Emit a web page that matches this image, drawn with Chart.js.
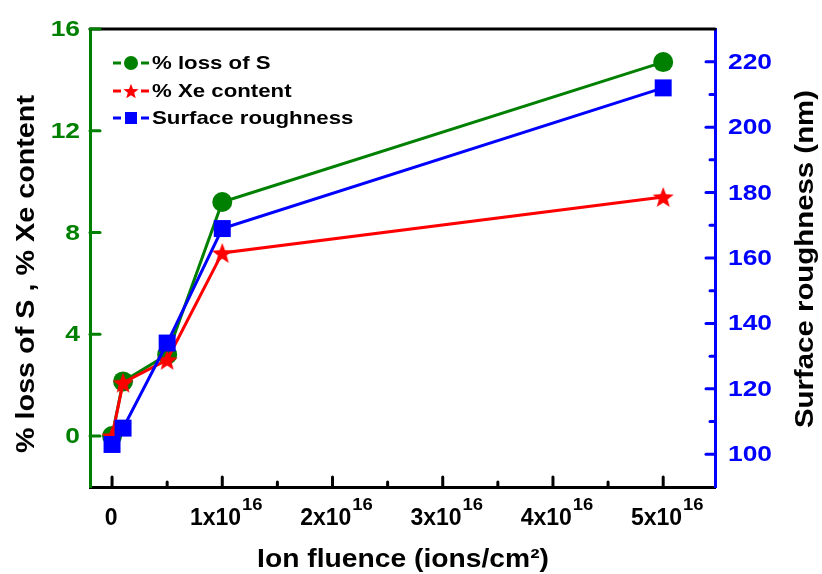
<!DOCTYPE html>
<html>
<head>
<meta charset="utf-8">
<script src="https://cdn.jsdelivr.net/npm/chart.js@4.4.1/dist/chart.umd.min.js"></script>
<style>
html,body{margin:0;padding:0;background:#fff}
</style>
</head>
<body>
<canvas id="myChart" width="822" height="574"></canvas>
<script>
// data
const fluence=[0,0.1e16,0.5e16,1e16,5e16];
const lossOfS=[0,2.15,3.2,9.2,14.7];
const xeContent=[0,2.1,3.0,7.2,9.4];
const roughness=[103,108,134,169,212];
const seriesNames=['% loss of S','% Xe content','Surface roughness'];
const xTicks=[0,1e16,2e16,3e16,4e16,5e16];
const xMinor=[0.5e16,1.5e16,2.5e16,3.5e16,4.5e16];
const leftTicks=[0,4,8,12,16];
const rightTicks=[100,120,140,160,180,200,220];
const rightMinor=[110,130,150,170,190,210];
const xTitle='Ion fluence (ions/cm²)';
const leftTitle='% loss of S , % Xe content';
const rightTitle='Surface roughness (nm)';

const GREEN='#008000', RED='#ff0000', BLUE='#0000ff';
const FONT='"Liberation Sans", Arial, sans-serif';

// filled 5 point star, chart.js "star" is only an asterisk
function makeStar(r,color){
    const c=document.createElement('canvas');
    c.width=c.height=Math.ceil(r*2+2);
    const g=c.getContext('2d');
    const cx=c.width/2, cy=c.height/2+r*0.1;
    g.beginPath();
    for(let i=0;i<10;i++){
        const rad=i%2==0?r:r*0.42;
        const a=-Math.PI/2+i*Math.PI/5;
        g.lineTo(cx+rad*Math.cos(a),cy+rad*Math.sin(a));
    }
    g.closePath();
    g.fillStyle=color;
    g.fill();
    return c;
}
const bigStar=makeStar(11,RED);
const smallStar=makeStar(8,RED);

const toPoints=(xs,ys)=>xs.map((x,i)=>({x:x,y:ys[i]}));

// the figure's lettering is wider than arial, so stretch it a bit
function drawText(ctx,txt,x,y,size,stretch,align,base,angle,color){
    ctx.save();
    ctx.font='bold '+size+'px '+FONT;
    ctx.fillStyle=color||'#000';
    ctx.textAlign=align;
    ctx.textBaseline=base;
    ctx.translate(x,y);
    if(angle) ctx.rotate(angle);
    ctx.scale(stretch,1);
    ctx.fillText(txt,0,0);
    ctx.restore();
}
function textWidth(ctx,txt,size){
    ctx.save();
    ctx.font='bold '+size+'px '+FONT;
    const w=ctx.measureText(txt).width;
    ctx.restore();
    return w;
}

const decorPlugin={
    id:'decor',
    afterDraw(chart){
        const ctx=chart.ctx;
        const a=chart.chartArea;
        const sx=chart.scales.x, sy=chart.scales.y, sy1=chart.scales.y1;
        ctx.save();
        ctx.lineCap='round';
        // top frame
        ctx.strokeStyle='#000';
        ctx.lineWidth=3;
        ctx.beginPath();
        ctx.moveTo(a.left,a.top);
        ctx.lineTo(a.right,a.top);
        ctx.stroke();
        // x ticks (inward)
        xTicks.forEach(v=>{
            const p=sx.getPixelForValue(v);
            ctx.beginPath();ctx.moveTo(p,a.bottom);ctx.lineTo(p,a.bottom-10);ctx.stroke();
        });
        xMinor.forEach(v=>{
            const p=sx.getPixelForValue(v);
            ctx.beginPath();ctx.moveTo(p,a.bottom);ctx.lineTo(p,a.bottom-5);ctx.stroke();
        });
        // left ticks + labels
        ctx.strokeStyle=GREEN;
        leftTicks.forEach(v=>{
            const p=sy.getPixelForValue(v);
            ctx.beginPath();ctx.moveTo(a.left,p);ctx.lineTo(a.left+10,p);ctx.stroke();
            drawText(ctx,String(v),80,p+1,22,1.2,'right','middle',0,GREEN);
        });
        // right ticks + labels
        ctx.strokeStyle=BLUE;
        rightTicks.forEach(v=>{
            const p=sy1.getPixelForValue(v);
            ctx.beginPath();ctx.moveTo(a.right,p);ctx.lineTo(a.right-9,p);ctx.stroke();
            drawText(ctx,String(v),728,p+1,22,1.2,'left','middle',0,BLUE);
        });
        rightMinor.forEach(v=>{
            const p=sy1.getPixelForValue(v);
            ctx.beginPath();ctx.moveTo(a.right,p);ctx.lineTo(a.right-5,p);ctx.stroke();
        });
        // x tick labels, 1x10 with a raised 16
        xTicks.forEach(v=>{
            const p=sx.getPixelForValue(v);
            const main=v==0?'0':Math.round(v/1e16)+'x10';
            const sup=v==0?'':'16';
            const w1=textWidth(ctx,main,23);
            const w2=sup?textWidth(ctx,sup,16)*1.15+1:0;
            const x0=p-(w1+w2)/2+(v==0?-1:4);
            drawText(ctx,main,x0,525,23,1,'left','alphabetic',0,'#000');
            if(sup) drawText(ctx,sup,x0+w1+1,510,16,1.15,'left','alphabetic',0,'#000');
        });
        // axis titles
        drawText(ctx,xTitle,403,567,25,1.13,'center','alphabetic',0,'#000');
        drawText(ctx,leftTitle,34,274,25,358/textWidth(ctx,leftTitle,25),'center','alphabetic',-Math.PI/2,'#000');
        drawText(ctx,rightTitle,813,259,25,338/textWidth(ctx,rightTitle,25),'center','alphabetic',-Math.PI/2,'#000');
        // legend
        const colors=[GREEN,RED,BLUE];
        const rows=[63,91,118];
        ctx.lineCap='butt';
        rows.forEach((y,i)=>{
            ctx.strokeStyle=colors[i];
            ctx.fillStyle=colors[i];
            ctx.lineWidth=3;
            ctx.beginPath();ctx.moveTo(113,y);ctx.lineTo(121,y);ctx.stroke();
            ctx.beginPath();ctx.moveTo(141,y);ctx.lineTo(149,y);ctx.stroke();
            if(i==0){ctx.beginPath();ctx.arc(131,y,7,0,Math.PI*2);ctx.fill();}
            if(i==1){ctx.drawImage(smallStar,131-smallStar.width/2,y-smallStar.height/2);}
            if(i==2){ctx.fillRect(125,y-6,12,12);}
            drawText(ctx,seriesNames[i],152,y+1,19,1.17,'left','middle',0,'#000');
        });
        ctx.restore();
    }
};

const ctx=document.getElementById('myChart');
const myChart=new Chart(ctx,{
    type:'line',
    data:{
        datasets:[{
            label:seriesNames[0],
            data:toPoints(fluence,lossOfS),
            borderColor:GREEN,
            backgroundColor:GREEN,
            pointStyle:'circle',
            pointRadius:10,
            pointBorderWidth:0,
            borderWidth:3,
            yAxisID:'y',
            order:2
        },{
            label:seriesNames[1],
            data:toPoints(fluence,xeContent),
            borderColor:RED,
            backgroundColor:RED,
            pointStyle:bigStar,
            borderWidth:3,
            yAxisID:'y',
            order:1
        },{
            label:seriesNames[2],
            data:toPoints(fluence,roughness),
            borderColor:BLUE,
            backgroundColor:BLUE,
            pointStyle:'rect',
            pointRadius:12,
            pointBorderWidth:0,
            borderWidth:3,
            yAxisID:'y1',
            order:0
        }]
    },
    options:{
        responsive:false,
        animation:false,
        devicePixelRatio:1,
        layout:{padding:{top:29,left:0,right:0,bottom:0}},
        plugins:{legend:{display:false},tooltip:{enabled:false}},
        scales:{
            x:{
                type:'linear',
                min:-0.2e16,
                max:5.47e16,
                afterBuildTicks:s=>{s.ticks=xTicks.map(v=>({value:v}));},
                afterFit:s=>{s.height=87;},
                ticks:{display:false},
                grid:{drawOnChartArea:false,drawTicks:false},
                border:{color:'#000',width:3}
            },
            y:{
                position:'left',
                min:-2,
                max:16,
                afterBuildTicks:s=>{s.ticks=leftTicks.map(v=>({value:v}));},
                afterFit:s=>{s.width=90;},
                ticks:{display:false},
                grid:{drawOnChartArea:false,drawTicks:false},
                border:{color:GREEN,width:3}
            },
            y1:{
                position:'right',
                min:90,
                max:230,
                afterBuildTicks:s=>{s.ticks=rightTicks.map(v=>({value:v}));},
                afterFit:s=>{s.width=107;},
                ticks:{display:false},
                grid:{drawOnChartArea:false,drawTicks:false},
                border:{color:BLUE,width:3}
            }
        }
    },
    plugins:[decorPlugin]
});
</script>
</body>
</html>
